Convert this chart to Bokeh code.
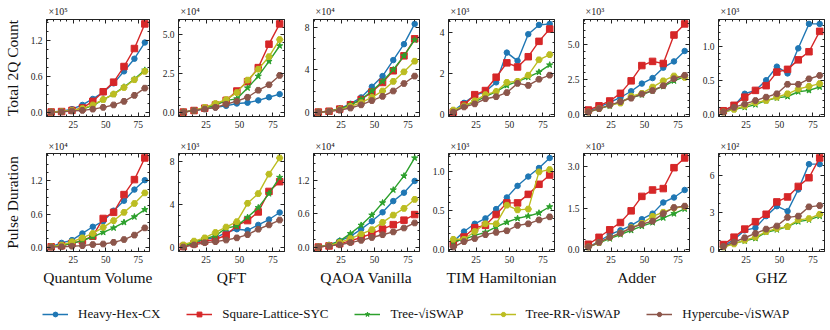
from bokeh.plotting import figure
from bokeh.models import (Range1d, FixedTicker, LinearAxis, Legend, LegendItem,
                          PrintfTickFormatter, CustomJSTickFormatter)
from bokeh.layouts import row, column
from bokeh.embed import file_html
from bokeh.resources import INLINE

# ---------------- data ----------------
qubits = [8, 16, 24, 32, 40, 48, 56, 64, 72, 80]
series_names = ["Heavy-Hex-CX", "Square-Lattice-SYC", "Tree-√iSWAP",
                "Tree-RR-√iSWAP", "Hypercube-√iSWAP"]
benchmarks = ["Quantum Volume", "QFT", "QAOA Vanilla", "TIM Hamiltonian", "Adder", "GHZ"]
row_labels = ["Total 2Q Count", "Pulse Duration"]

# Total 2Q count (values in units of 10^exp)
count_exp = [5, 4, 4, 3, 3, 3]
count_qv_hh = [0.005, 0.015, 0.05, 0.12, 0.22, 0.33, 0.48, 0.68, 0.89, 1.16]
count_qv_sl = [0.003, 0.01, 0.03, 0.07, 0.18, 0.34, 0.50, 0.76, 1.06, 1.47]
count_qv_tr = [0.002, 0.01, 0.025, 0.05, 0.11, 0.21, 0.30, 0.42, 0.55, 0.70]
count_qv_rr = [0.002, 0.01, 0.03, 0.06, 0.12, 0.21, 0.30, 0.41, 0.54, 0.68]
count_qv_hc = [0.001, 0.005, 0.02, 0.03, 0.05, 0.08, 0.12, 0.18, 0.28, 0.40]

count_qft_hh = [0.05, 0.15, 0.25, 0.35, 0.45, 0.6, 0.65, 0.8, 1.0, 1.2]
count_qft_sl = [0.05, 0.15, 0.3, 0.5, 0.8, 1.4, 2.0, 2.9, 4.4, 5.7]
count_qft_tr = [0.05, 0.15, 0.3, 0.5, 0.8, 0.9, 1.6, 2.35, 3.3, 4.3]
count_qft_rr = [0.05, 0.15, 0.35, 0.6, 0.85, 1.3, 2.1, 2.8, 3.6, 4.7]
count_qft_hc = [0.05, 0.15, 0.25, 0.35, 0.55, 0.75, 1.0, 1.45, 1.8, 2.4]

count_qaoa_hh = [0.02, 0.1, 0.35, 0.8, 1.4, 2.4, 3.4, 4.9, 6.4, 8.3]
count_qaoa_sl = [0.02, 0.1, 0.3, 0.7, 1.2, 1.9, 2.8, 3.9, 5.3, 6.9]
count_qaoa_tr = [0.02, 0.1, 0.3, 0.7, 1.2, 2.0, 2.9, 4.0, 5.3, 6.8]
count_qaoa_rr = [0.02, 0.1, 0.25, 0.55, 0.9, 1.4, 2.0, 2.9, 3.8, 4.8]
count_qaoa_hc = [0.02, 0.08, 0.2, 0.4, 0.7, 1.1, 1.5, 2.0, 2.7, 3.4]

count_tim_hh = [0.15, 0.55, 0.9, 1.1, 1.55, 3.0, 2.6, 3.9, 4.35, 4.4]
count_tim_sl = [0.1, 0.45, 0.95, 1.15, 1.8, 2.5, 2.3, 2.8, 3.55, 4.15]
count_tim_tr = [0.15, 0.4, 0.6, 0.85, 1.1, 1.4, 1.6, 1.8, 2.05, 2.4]
count_tim_rr = [0.2, 0.4, 0.65, 0.95, 1.1, 1.55, 1.6, 1.9, 2.65, 2.9]
count_tim_hc = [0.1, 0.35, 0.5, 0.75, 0.85, 1.05, 1.5, 1.4, 1.7, 1.9]

count_add_hh = [0.2, 0.5, 0.85, 1.2, 1.65, 2.2, 2.6, 3.35, 3.8, 4.55]
count_add_sl = [0.3, 0.6, 0.95, 1.5, 2.4, 3.5, 3.8, 3.65, 5.7, 6.5]
count_add_tr = [0.15, 0.4, 0.6, 0.9, 1.2, 1.4, 1.7, 2.0, 2.4, 2.7]
count_add_rr = [0.15, 0.4, 0.65, 0.8, 1.3, 1.5, 1.95, 2.4, 2.75, 2.65]
count_add_hc = [0.15, 0.4, 0.65, 0.9, 1.15, 1.45, 1.7, 2.05, 2.55, 2.8]

count_ghz_hh = [0.05, 0.12, 0.3, 0.35, 0.5, 0.7, 0.6, 0.97, 1.33, 1.33]
count_ghz_sl = [0.05, 0.13, 0.25, 0.35, 0.42, 0.62, 0.66, 0.8, 0.92, 1.22]
count_ghz_tr = [0.03, 0.07, 0.1, 0.14, 0.2, 0.24, 0.26, 0.33, 0.35, 0.4]
count_ghz_rr = [0.03, 0.07, 0.12, 0.17, 0.2, 0.25, 0.3, 0.37, 0.41, 0.45]
count_ghz_hc = [0.03, 0.1, 0.15, 0.2, 0.25, 0.3, 0.44, 0.44, 0.52, 0.57]

# Pulse duration (values in units of 10^exp)
pulse_exp = [4, 3, 4, 3, 3, 2]
pulse_qv_hh = [0.01, 0.08, 0.13, 0.25, 0.37, 0.47, 0.66, 0.84, 1.04, 1.21]
pulse_qv_sl = [0.01, 0.03, 0.07, 0.12, 0.2, 0.52, 0.63, 0.95, 1.22, 1.61]
pulse_qv_tr = [0.01, 0.03, 0.07, 0.12, 0.19, 0.27, 0.35, 0.45, 0.55, 0.68]
pulse_qv_rr = [0.01, 0.04, 0.1, 0.17, 0.25, 0.36, 0.48, 0.63, 0.79, 0.98]
pulse_qv_hc = [0.005, 0.01, 0.02, 0.03, 0.05, 0.06, 0.09, 0.14, 0.22, 0.35]

pulse_qft_hh = [0.1, 0.35, 0.8, 0.9, 1.4, 1.7, 1.6, 2.1, 2.6, 3.25]
pulse_qft_sl = [0.1, 0.35, 0.6, 0.75, 1.15, 2.05, 2.5, 3.3, 5.2, 6.1]
pulse_qft_tr = [0.15, 0.5, 0.8, 1.1, 1.8, 2.0, 2.8, 3.7, 5.0, 6.5]
pulse_qft_rr = [0.25, 0.6, 0.9, 1.4, 1.9, 2.4, 4.1, 5.0, 6.8, 8.3]
pulse_qft_hc = [0.05, 0.25, 0.45, 0.55, 0.7, 0.9, 1.2, 1.7, 2.1, 2.55]

pulse_qaoa_hh = [0.01, 0.05, 0.12, 0.2, 0.33, 0.47, 0.63, 0.83, 0.98, 1.19]
pulse_qaoa_sl = [0.01, 0.03, 0.07, 0.12, 0.18, 0.25, 0.33, 0.41, 0.49, 0.59]
pulse_qaoa_tr = [0.01, 0.04, 0.12, 0.25, 0.4, 0.58, 0.8, 1.03, 1.28, 1.6]
pulse_qaoa_rr = [0.01, 0.04, 0.09, 0.16, 0.24, 0.32, 0.45, 0.58, 0.7, 0.86]
pulse_qaoa_hc = [0.01, 0.03, 0.05, 0.09, 0.13, 0.18, 0.23, 0.28, 0.35, 0.44]

pulse_tim_hh = [0.1, 0.23, 0.33, 0.4, 0.52, 0.67, 0.82, 0.94, 1.05, 1.18]
pulse_tim_sl = [0.07, 0.16, 0.28, 0.31, 0.45, 0.6, 0.6, 0.71, 0.84, 0.96]
pulse_tim_tr = [0.1, 0.13, 0.18, 0.22, 0.29, 0.35, 0.4, 0.43, 0.47, 0.55]
pulse_tim_rr = [0.13, 0.13, 0.23, 0.33, 0.33, 0.57, 0.51, 0.52, 1.0, 1.03]
pulse_tim_hc = [0.03, 0.1, 0.14, 0.19, 0.22, 0.24, 0.31, 0.33, 0.38, 0.42]

pulse_add_hh = [0.1, 0.3, 0.55, 0.7, 0.88, 1.1, 1.3, 1.7, 1.88, 2.15]
pulse_add_sl = [0.2, 0.45, 0.72, 0.98, 1.4, 1.92, 2.15, 2.2, 2.95, 3.3]
pulse_add_tr = [0.1, 0.25, 0.4, 0.55, 0.7, 0.85, 0.98, 1.15, 1.3, 1.47]
pulse_add_rr = [0.1, 0.27, 0.45, 0.6, 0.8, 0.95, 1.2, 1.35, 1.5, 1.55]
pulse_add_hc = [0.1, 0.27, 0.45, 0.6, 0.78, 0.92, 1.03, 1.3, 1.52, 1.57]

pulse_ghz_hh = [0.3, 0.8, 1.55, 1.75, 2.7, 3.5, 3.1, 4.85, 6.9, 6.9]
pulse_ghz_sl = [0.4, 1.0, 1.65, 2.25, 2.85, 3.85, 4.25, 5.1, 5.8, 7.4]
pulse_ghz_tr = [0.2, 0.5, 0.7, 0.9, 1.4, 1.6, 1.85, 2.25, 2.4, 2.7]
pulse_ghz_rr = [0.2, 0.45, 0.75, 1.0, 1.45, 1.7, 1.85, 2.4, 2.5, 2.85]
pulse_ghz_hc = [0.25, 0.6, 0.95, 1.3, 1.65, 1.9, 2.6, 2.7, 3.45, 3.55]

# tick values / labels
x_ticks = [25, 50, 75]
count_yticks = [[0, 0.6, 1.2], [0, 2.5, 5.0], [0, 4, 8], [0, 2, 4], [0, 2.5, 5.0], [0, 0.5, 1.0]]
count_yfmt = ["%.1f", "%.1f", "%d", "%d", "%.1f", "%.1f"]
count_yminor = [0.15, 0.5, 1.0, 0.5, 0.5, 0.1]
pulse_yticks = [[0, 0.6, 1.2], [0, 4, 8], [0, 0.6, 1.2], [0, 0.5, 1.0], [0, 1.5, 3.0], [0, 3, 6]]
pulse_yfmt = ["%.1f", "%d", "%.1f", "%.1f", "%.1f", "%d"]
pulse_yminor = [0.15, 1.0, 0.15, 0.1, 0.375, 0.75]

count_panels = [
    [count_qv_hh, count_qv_sl, count_qv_tr, count_qv_rr, count_qv_hc],
    [count_qft_hh, count_qft_sl, count_qft_tr, count_qft_rr, count_qft_hc],
    [count_qaoa_hh, count_qaoa_sl, count_qaoa_tr, count_qaoa_rr, count_qaoa_hc],
    [count_tim_hh, count_tim_sl, count_tim_tr, count_tim_rr, count_tim_hc],
    [count_add_hh, count_add_sl, count_add_tr, count_add_rr, count_add_hc],
    [count_ghz_hh, count_ghz_sl, count_ghz_tr, count_ghz_rr, count_ghz_hc],
]
pulse_panels = [
    [pulse_qv_hh, pulse_qv_sl, pulse_qv_tr, pulse_qv_rr, pulse_qv_hc],
    [pulse_qft_hh, pulse_qft_sl, pulse_qft_tr, pulse_qft_rr, pulse_qft_hc],
    [pulse_qaoa_hh, pulse_qaoa_sl, pulse_qaoa_tr, pulse_qaoa_rr, pulse_qaoa_hc],
    [pulse_tim_hh, pulse_tim_sl, pulse_tim_tr, pulse_tim_rr, pulse_tim_hc],
    [pulse_add_hh, pulse_add_sl, pulse_add_tr, pulse_add_rr, pulse_add_hc],
    [pulse_ghz_hh, pulse_ghz_sl, pulse_ghz_tr, pulse_ghz_rr, pulse_ghz_hc],
]

# ---------------- style ----------------
FONT = "Liberation Serif"
COLORS = ["#1f77b4", "#d62728", "#2ca02c", "#bcbd22", "#8c564b"]
MARKERS = ["circle", "square", "star", "hex", "hex"]
MSIZES = [5.5, 6.5, 6.5, 6.5, 6.5]
SUP = {2: "²", 3: "³", 4: "⁴", 5: "⁵"}

FRAME_W = 106
X_START, X_END = 4.4, 83.6


def minor_list(lo, hi, step):
    out = []
    k = int(lo // step) - 1
    while k * step <= hi + step:
        v = k * step
        if lo <= v <= hi:
            out.append(round(v, 6))
        k += 1
    return out


def style_axis(ax, ticks, minor, fmt=None, labels=True):
    ax.ticker = FixedTicker(ticks=ticks, minor_ticks=minor)
    ax.major_tick_in = 4
    ax.major_tick_out = 0
    ax.minor_tick_in = 2
    ax.minor_tick_out = 0
    ax.axis_line_color = "#222222"
    ax.axis_line_width = 1
    ax.major_tick_line_color = "#222222"
    ax.minor_tick_line_color = "#222222"
    ax.major_label_text_font = FONT
    ax.major_label_text_color = "#222222"
    if labels:
        ax.major_label_text_font_size = "9.5px"
        ax.major_label_standoff = 4
        if fmt:
            ax.formatter = PrintfTickFormatter(format=fmt)
    else:
        ax.formatter = CustomJSTickFormatter(code="return ''")
        ax.major_label_text_font_size = "0px"
        ax.major_label_standoff = 0


def make_panel(values, yticks, yfmt, yminor, exp, col, r):
    first = col == 0
    bottom = r == 1
    left = 43 if first else 25
    top = 19 if r == 0 else 17
    bot = 20 if r == 0 else 41
    frame_h = 97 if r == 0 else 98
    allv = [v for s in values for v in s]
    lo, hi = min(allv), max(allv)
    pad = (hi - lo) * 0.05
    p = figure(width=left + FRAME_W + 4, height=top + frame_h + bot,
               x_range=Range1d(X_START, X_END), y_range=Range1d(lo - pad, hi + pad),
               output_backend="svg", toolbar_location=None,
               x_axis_location=None, y_axis_location=None,
               min_border_left=left, min_border_right=4,
               min_border_top=top, min_border_bottom=bot)
    p.xgrid.visible = False
    p.ygrid.visible = False
    p.outline_line_color = "#222222"
    p.background_fill_color = "white"
    p.border_fill_color = "white"

    p.title.text = "×10" + SUP[exp]
    p.title.text_font = FONT
    p.title.text_font_size = "10px"
    p.title.text_font_style = "normal"
    p.title.text_color = "#222222"
    p.title.align = "left"
    p.title.offset = 2
    p.title.standoff = 5 if r == 0 else 4

    xminor = minor_list(X_START, X_END, 5)
    ymin = minor_list(lo - pad, hi + pad, yminor)

    bottom_ax = LinearAxis()
    style_axis(bottom_ax, x_ticks, xminor)
    left_ax = LinearAxis()
    style_axis(left_ax, yticks, ymin, yfmt)
    top_ax = LinearAxis()
    style_axis(top_ax, x_ticks, xminor, labels=False)
    right_ax = LinearAxis()
    style_axis(right_ax, yticks, ymin, labels=False)

    if first:
        left_ax.axis_label = row_labels[r]
        left_ax.axis_label_text_font = FONT
        left_ax.axis_label_text_font_style = "normal"
        left_ax.axis_label_text_font_size = "15.5px"
        left_ax.axis_label_standoff = 7
        left_ax.axis_label_text_color = "#111111"
    if bottom:
        bottom_ax.axis_label = benchmarks[col]
        bottom_ax.axis_label_text_font = FONT
        bottom_ax.axis_label_text_font_style = "normal"
        bottom_ax.axis_label_text_font_size = "15.5px"
        bottom_ax.axis_label_standoff = 3
        bottom_ax.axis_label_text_color = "#111111"

    p.add_layout(bottom_ax, "below")
    p.add_layout(left_ax, "left")
    p.add_layout(top_ax, "above")
    p.add_layout(right_ax, "right")

    for i, s in enumerate(values):
        p.line(qubits, s, line_color=COLORS[i], line_width=1.4)
        p.scatter(qubits, s, marker=MARKERS[i], size=MSIZES[i],
                  fill_color=COLORS[i], line_color=COLORS[i])
    return p


top_row = [make_panel(count_panels[c], count_yticks[c], count_yfmt[c], count_yminor[c],
                      count_exp[c], c, 0) for c in range(6)]
bottom_row = [make_panel(pulse_panels[c], pulse_yticks[c], pulse_yfmt[c], pulse_yminor[c],
                         pulse_exp[c], c, 1) for c in range(6)]

# ---------------- legend ----------------
# renderers carry the first panel's data but sit outside the visible range;
# only their legend glyphs are seen
lg = figure(width=828, height=30, x_range=Range1d(-10, -9), y_range=Range1d(-10, -9),
            output_backend="svg", toolbar_location=None,
            x_axis_location=None, y_axis_location=None,
            min_border_left=0, min_border_right=0, min_border_top=0, min_border_bottom=0)
lg.xgrid.visible = False
lg.ygrid.visible = False
lg.outline_line_color = None
items = []
for i, name in enumerate(series_names):
    l = lg.line(qubits, count_panels[0][i], line_color=COLORS[i], line_width=1.5)
    m = lg.scatter(qubits, count_panels[0][i], marker=MARKERS[i], size=MSIZES[i] + 1,
                   fill_color=COLORS[i], line_color=COLORS[i])
    items.append(LegendItem(label=name, renderers=[l, m]))
legend = Legend(items=items, orientation="horizontal", location=(42, 0),
                spacing=26, glyph_width=26, glyph_height=12, label_standoff=10,
                padding=0, margin=0, border_line_alpha=0, background_fill_alpha=0,
                label_text_font=FONT, label_text_font_size="13px",
                label_text_color="#111111")
lg.add_layout(legend)

layout = column(row(*top_row), row(*bottom_row), lg)

open("out.html", "w").write(file_html(layout, INLINE))
